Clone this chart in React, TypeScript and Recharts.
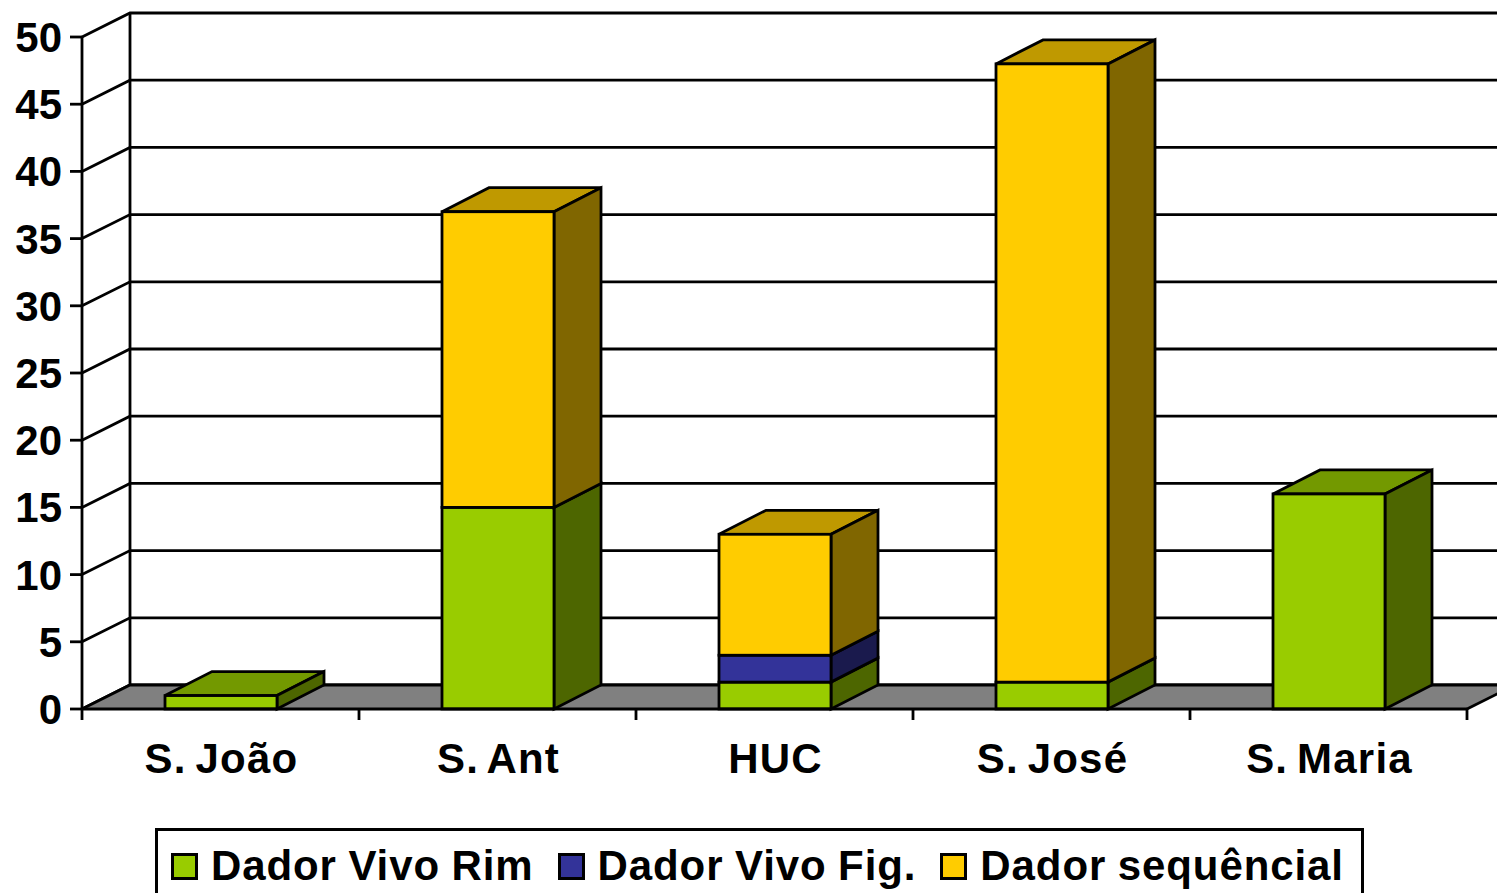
import React from "react";
import { BarChart, Bar, XAxis, YAxis, Legend, CartesianGrid, ReferenceArea } from "recharts";

const categories = ["S. João", "S. Ant", "HUC", "S. José", "S. Maria"];
const rim = [1, 15, 2, 2, 16];
const fig = [0, 0, 2, 0, 0];
const seq = [0, 22, 9, 46, 0];
const yTicks = [0, 5, 10, 15, 20, 25, 30, 35, 40, 45, 50];
const seriesNames = ["Dador Vivo Rim", "Dador Vivo Fig.", "Dador sequêncial"];

const data = categories.map((name, i) => ({ name, rim: rim[i], fig: fig[i], seq: seq[i] }));

const WALL_DX = 48;
const BAR_DX = 47;
const DY = 24;
const SW = 2.8;
const FONT = "'Liberation Sans', Arial, sans-serif";

const makeBarShape = (side: string, top: string) => (props: any) => {
  const { x, y, width, height, fill } = props;
  if (!height || height <= 0) return <g />;
  const r = x + width;
  const b = y + height;
  return (
    <g stroke="#000" strokeWidth={SW} strokeLinejoin="miter">
      <polygon points={`${x},${y} ${x + BAR_DX},${y - DY} ${r + BAR_DX},${y - DY} ${r},${y}`} fill={top} />
      <polygon points={`${r},${y} ${r + BAR_DX},${y - DY} ${r + BAR_DX},${b - DY} ${r},${b}`} fill={side} />
      <rect x={x} y={y} width={width} height={height} fill={fill} />
    </g>
  );
};

const WallShape = (props: any) => {
  const { x, y, width, height } = props;
  const b = y + height;
  const r = x + width;
  return (
    <g>
      <polygon points={`${x},${b} ${x + WALL_DX},${b - DY} ${r + WALL_DX},${b - DY} ${r},${b}`} fill="#808080" stroke="none" />
      <line x1={x + WALL_DX} y1={y - DY} x2={x + WALL_DX} y2={b - DY} stroke="#000" strokeWidth={SW} />
      <polyline points={`${x},${b} ${x + WALL_DX},${b - DY} ${r + WALL_DX},${b - DY}`} fill="none" stroke="#000" strokeWidth={SW} />
      <line x1={r} y1={b} x2={r + WALL_DX} y2={b - DY} stroke="#000" strokeWidth={SW} />
    </g>
  );
};

const GridShape = (props: any) => {
  const { x1, y1, x2 } = props;
  return (
    <polyline
      key={props.key ?? y1}
      points={`${x1},${y1} ${x1 + WALL_DX},${y1 - DY} ${x2 + WALL_DX},${y1 - DY}`}
      fill="none"
      stroke="#000"
      strokeWidth={SW}
    />
  );
};

const XTick = (props: any) => {
  const { x, y, payload, index } = props;
  const half = 277 / 2;
  return (
    <g>
      <line x1={x - half} y1={y} x2={x - half} y2={y + 11} stroke="#000" strokeWidth={SW} />
      {index === categories.length - 1 && (
        <line x1={x + half} y1={y} x2={x + half} y2={y + 11} stroke="#000" strokeWidth={SW} />
      )}
      <text
        x={x + 1}
        y={y + 64}
        textAnchor="middle"
        fontFamily={FONT}
        fontWeight={700}
        fontSize={42}
        letterSpacing={1.2}
        wordSpacing={-4}
        fill="#000"
      >
        {payload.value}
      </text>
    </g>
  );
};

const LegendContent = (props: any) => {
  const items = props.payload || [];
  return (
    <div
      style={{
        boxSizing: "border-box",
        width: 1209,
        height: 65,
        border: "3px solid #000",
        borderBottom: "none",
        background: "#fff",
        display: "flex",
        alignItems: "center",
        paddingLeft: 13,
        paddingTop: 8,
        fontFamily: FONT,
        fontWeight: 700,
        fontSize: 42,
        letterSpacing: 0.9,
        wordSpacing: -1,
        color: "#000",
        whiteSpace: "nowrap",
        lineHeight: "48px",
        marginTop: -1,
      }}
    >
      {items.map((it: any) => (
        <span key={it.value} style={{ display: "flex", alignItems: "center", marginRight: 24 }}>
          <span
            style={{
              boxSizing: "border-box",
              display: "inline-block",
              width: 27,
              height: 27,
              background: it.color,
              border: "3px solid #000",
              marginRight: 13,
            }}
          />
          {it.value}
        </span>
      ))}
    </div>
  );
};

export default function App() {
  return (
    <div style={{ position: "absolute", left: 0, top: 0, width: 1497, height: 894, overflow: "hidden", background: "#fff" }}>
      <BarChart
        width={1497}
        height={894}
        data={data}
        margin={{ top: 37, right: 30, left: 0, bottom: 0 }}
        barSize={112}
        barGap={0}
      >
        <CartesianGrid vertical={false} horizontal={GridShape as any} horizontalValues={yTicks} />
        <XAxis
          dataKey="name"
          height={120}
          tickLine={false}
          tickSize={0}
          tickMargin={0}
          axisLine={{ stroke: "#000", strokeWidth: SW }}
          tick={<XTick />}
          interval={0}
        />
        <YAxis
          width={82}
          domain={[0, 50]}
          ticks={yTicks}
          interval={0}
          tickSize={12}
          tickMargin={8}
          tickLine={{ stroke: "#000", strokeWidth: SW }}
          axisLine={{ stroke: "#000", strokeWidth: SW }}
          tick={{ fill: "#000", fontFamily: FONT, fontWeight: 700, fontSize: 42 }}
        />
        <ReferenceArea y1={0} y2={50} shape={<WallShape />} fill="none" stroke="none" />
        <Bar
          dataKey="rim"
          name={seriesNames[0]}
          stackId="a"
          fill="#99cc00"
          isAnimationActive={false}
          shape={makeBarShape("#4d6600", "#739900")}
        />
        <Bar
          dataKey="fig"
          name={seriesNames[1]}
          stackId="a"
          fill="#333399"
          isAnimationActive={false}
          shape={makeBarShape("#1a1a4d", "#262673")}
        />
        <Bar
          dataKey="seq"
          name={seriesNames[2]}
          stackId="a"
          fill="#ffcc00"
          isAnimationActive={false}
          shape={makeBarShape("#806600", "#bf9900")}
        />
        <Legend
          verticalAlign="bottom"
          height={65}
          itemSorter={null as any}
          content={<LegendContent />}
          wrapperStyle={{ left: 155, width: 1209 }}
        />
      </BarChart>
    </div>
  );
}
